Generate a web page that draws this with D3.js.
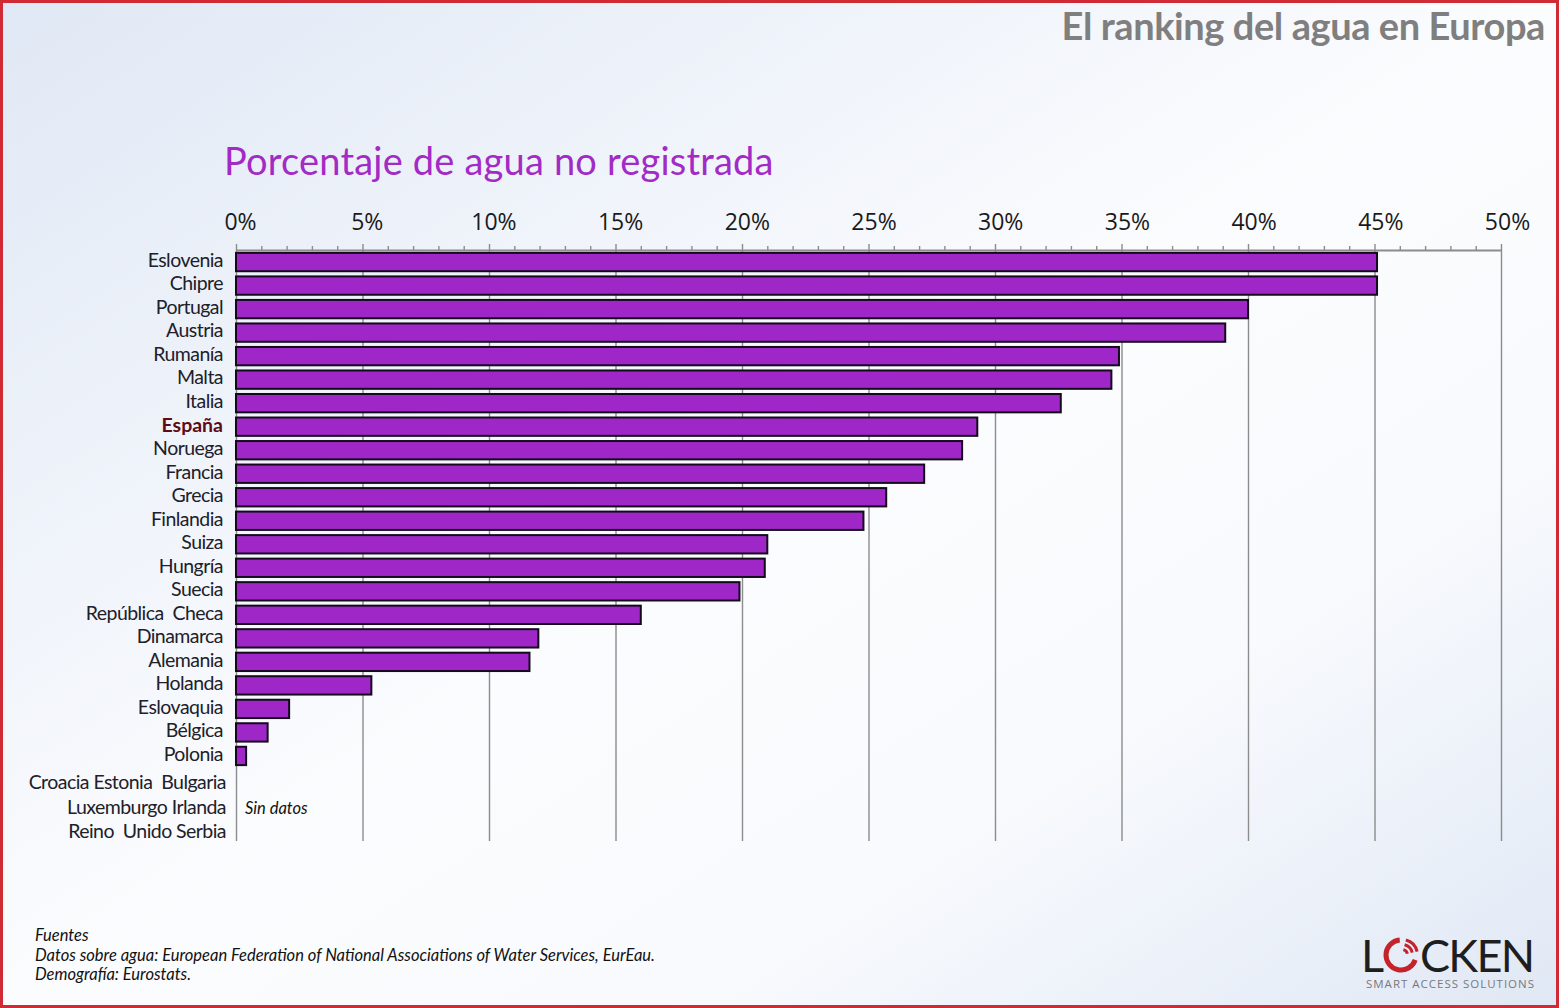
<!DOCTYPE html>
<html>
<head>
<meta charset="utf-8">
<script src="https://cdn.jsdelivr.net/npm/d3@7"></script>
<style>
  html, body { margin: 0; padding: 0; background: #fff; overflow: hidden; }
  svg { display: block; }
  .axis .domain { stroke: #8c8c8c; stroke-width: 2; }
  .axis line { stroke: #8c8c8c; stroke-width: 1.4; }
  .axis text { font-family: "Open Sans", sans-serif; font-size: 23px; fill: #1a1a1a; }
  .label { font-family: Lato, sans-serif; font-size: 19.5px; letter-spacing: -0.55px; fill: #20202a; }
  .note { font-family: Lato, sans-serif; font-style: italic; font-size: 16.5px; fill: #111; }
</style>
</head>
<body>
<div id="chart"></div>
<script>
// Constants for the SVG size
const width = 1559;
const height = 1008;

// Data
const countries = ["Eslovenia", "Chipre", "Portugal", "Austria", "Rumanía", "Malta", "Italia", "España",
  "Noruega", "Francia", "Grecia", "Finlandia", "Suiza", "Hungría", "Suecia", "República  Checa",
  "Dinamarca", "Alemania", "Holanda", "Eslovaquia", "Bélgica", "Polonia"];
const percentages = [45.1, 45.1, 40.0, 39.1, 34.9, 34.6, 32.6, 29.3,
  28.7, 27.2, 25.7, 24.8, 21.0, 20.9, 19.9, 16.0,
  11.95, 11.6, 5.35, 2.1, 1.25, 0.4];
const noDataLines = ["Croacia Estonia  Bulgaria", "Luxemburgo Irlanda", "Reino  Unido Serbia"];
const majorTicks = [0, 5, 10, 15, 20, 25, 30, 35, 40, 45, 50];
const minorTicks = d3.range(0, 51).filter(d => d % 5 !== 0);
const sourceLines = ["Fuentes",
  "Datos sobre agua: European Federation of National Associations of Water Services, EurEau.",
  "Demografía: Eurostats."];

const svg = d3.select("#chart")
  .append("svg")
  .attr("width", width)
  .attr("height", height);

// Background gradient and red frame
const defs = svg.append("defs");
const grad = defs.append("linearGradient")
  .attr("id", "bg")
  .attr("x1", "0%").attr("y1", "0%")
  .attr("x2", "100%").attr("y2", "100%");
grad.append("stop").attr("offset", "0%").attr("stop-color", "#e0e8f5");
grad.append("stop").attr("offset", "50%").attr("stop-color", "#fbfcfe");
grad.append("stop").attr("offset", "72%").attr("stop-color", "#f8fafd");
grad.append("stop").attr("offset", "100%").attr("stop-color", "#e0e8f5");

svg.append("rect")
  .attr("x", 1.5).attr("y", 1.5)
  .attr("width", width - 3).attr("height", height - 3)
  .attr("fill", "url(#bg)")
  .attr("stroke", "#d02a35")
  .attr("stroke-width", 3);

// Scales
const xScale = d3.scaleLinear().domain([0, 50]).range([236, 1501]);
const yScale = d3.scaleBand()
  .domain(countries)
  .range([250.3, 767.7])
  .paddingInner(0.22)
  .paddingOuter(0.11);

// Titles
svg.append("text")
  .attr("x", 1545).attr("y", 40)
  .attr("text-anchor", "end")
  .attr("font-family", "Lato, sans-serif")
  .attr("font-size", 38)
  .attr("font-weight", 700)
  .attr("letter-spacing", -0.42)
  .attr("fill", "#7f7f7f")
  .text("El ranking del agua en Europa");

svg.append("text")
  .attr("x", 224).attr("y", 175)
  .attr("font-family", "Lato, sans-serif")
  .attr("font-size", 38)
  .attr("letter-spacing", 0.2)
  .attr("fill", "#a22bc6")
  .text("Porcentaje de agua no registrada");

// Grid lines and labels come from the major ticks, small ticks from a second axis
svg.append("g")
  .attr("class", "axis")
  .attr("transform", "translate(0, 250)")
  .call(d3.axisTop(xScale).tickValues(minorTicks).tickSize(4).tickFormat(""))
  .call(g => g.select(".domain").remove());

const axis = svg.append("g")
  .attr("class", "axis")
  .attr("transform", "translate(0, 250)")
  .call(d3.axisTop(xScale).tickValues(majorTicks).tickSizeOuter(0).tickFormat(d => d + "%").tickPadding(14));
axis.selectAll(".tick line")
  .attr("y1", -6)
  .attr("y2", 591);
axis.selectAll(".tick text")
  .attr("dx", d => 4 + d / 25);

// Bars
svg.selectAll(".bar")
  .data(countries)
  .enter()
  .append("rect")
  .attr("class", "bar")
  .attr("x", xScale(0))
  .attr("y", d => yScale(d))
  .attr("width", (d, i) => xScale(percentages[i]) - xScale(0))
  .attr("height", yScale.bandwidth())
  .attr("fill", "#9f27c8")
  .attr("stroke", "#140a1c")
  .attr("stroke-width", 2);

// Country labels
svg.selectAll(".label.country")
  .data(countries)
  .enter()
  .append("text")
  .attr("class", "label country")
  .attr("x", 223)
  .attr("y", d => yScale(d) + yScale.bandwidth() / 2 - 2)
  .attr("dy", "0.35em")
  .attr("text-anchor", "end")
  .attr("xml:space", "preserve")
  .style("font-weight", d => d === "España" ? 700 : 400)
  .style("letter-spacing", d => d === "España" ? "0" : null)
  .style("fill", d => d === "España" ? "#5e0b16" : null)
  .text(d => d);

// Countries without data
svg.selectAll(".label.nodata")
  .data(noDataLines)
  .enter()
  .append("text")
  .attr("class", "label nodata")
  .attr("x", 226)
  .attr("y", (d, i) => 789 + i * 24.5)
  .attr("text-anchor", "end")
  .attr("xml:space", "preserve")
  .text(d => d);

svg.append("text")
  .attr("class", "note")
  .attr("x", 245).attr("y", 814)
  .text("Sin datos");

// Sources
svg.selectAll(".source")
  .data(sourceLines)
  .enter()
  .append("text")
  .attr("class", "note source")
  .attr("x", 35)
  .attr("y", (d, i) => 941 + i * 19.5)
  .text(d => d);

// Logo
const logo = svg.append("g").attr("transform", "translate(1364, 938)");
logo.append("text")
  .attr("x", -3).attr("y", 34)
  .attr("font-family", "Lato, sans-serif")
  .attr("font-size", 45)
  .attr("fill", "#1e1e20")
  .text("L");
logo.append("text")
  .attr("x", 56).attr("y", 34)
  .attr("font-family", "Lato, sans-serif")
  .attr("font-size", 45)
  .attr("textLength", 115)
  .attr("fill", "#1e1e20")
  .text("CKEN");
const ring = d3.arc();
logo.append("path")
  .attr("transform", "translate(37, 17)")
  .attr("d", ring({ innerRadius: 12.5, outerRadius: 17.5, startAngle: 1.9, endAngle: 6.2 }))
  .attr("fill", "#c4232b");
[[4, 7], [9, 12], [14, 17]].forEach(([r0, r1]) => {
  logo.append("path")
    .attr("transform", "translate(38, 17)")
    .attr("d", ring({ innerRadius: r0, outerRadius: r1, startAngle: 0.25, endAngle: 1.35 }))
    .attr("fill", "#c4232b");
});
logo.append("text")
  .attr("x", 2).attr("y", 50)
  .attr("font-family", "'Open Sans', sans-serif")
  .attr("font-size", 11.5)
  .attr("textLength", 168)
  .attr("fill", "#77797c")
  .text("SMART ACCESS SOLUTIONS");
</script>
</body>
</html>
